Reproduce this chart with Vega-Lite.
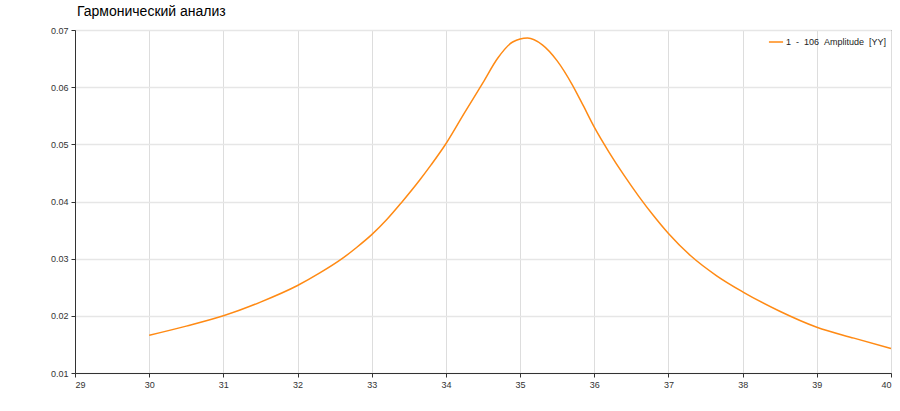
{
  "$schema": "https://vega.github.io/schema/vega-lite/v6.json",
  "autosize": "none",
  "width": 816,
  "height": 343,
  "padding": {"left": 75, "top": 30, "right": 9, "bottom": 38},
  "background": "white",
  "title": {
    "text": "Гармонический анализ",
    "anchor": "start",
    "frame": "group",
    "font": "Liberation Sans",
    "fontSize": 14,
    "fontWeight": "normal",
    "color": "#000000",
    "offset": 7,
    "dx": 2
  },
  "data": {
    "values": [
      {"freq": 30.0, "amp": 0.0166, "series": "1 \u00a0-\u00a0 106 \u00a0Amplitude \u00a0[YY]"},
      {"freq": 30.5, "amp": 0.0182, "series": "1 \u00a0-\u00a0 106 \u00a0Amplitude \u00a0[YY]"},
      {"freq": 31.0, "amp": 0.0200, "series": "1 \u00a0-\u00a0 106 \u00a0Amplitude \u00a0[YY]"},
      {"freq": 31.5, "amp": 0.0224, "series": "1 \u00a0-\u00a0 106 \u00a0Amplitude \u00a0[YY]"},
      {"freq": 32.0, "amp": 0.0253, "series": "1 \u00a0-\u00a0 106 \u00a0Amplitude \u00a0[YY]"},
      {"freq": 32.3, "amp": 0.0275, "series": "1 \u00a0-\u00a0 106 \u00a0Amplitude \u00a0[YY]"},
      {"freq": 32.6, "amp": 0.0300, "series": "1 \u00a0-\u00a0 106 \u00a0Amplitude \u00a0[YY]"},
      {"freq": 32.8, "amp": 0.0320, "series": "1 \u00a0-\u00a0 106 \u00a0Amplitude \u00a0[YY]"},
      {"freq": 33.0, "amp": 0.0342, "series": "1 \u00a0-\u00a0 106 \u00a0Amplitude \u00a0[YY]"},
      {"freq": 33.2, "amp": 0.0368, "series": "1 \u00a0-\u00a0 106 \u00a0Amplitude \u00a0[YY]"},
      {"freq": 33.4, "amp": 0.0398, "series": "1 \u00a0-\u00a0 106 \u00a0Amplitude \u00a0[YY]"},
      {"freq": 33.65, "amp": 0.0438, "series": "1 \u00a0-\u00a0 106 \u00a0Amplitude \u00a0[YY]"},
      {"freq": 33.8, "amp": 0.0464, "series": "1 \u00a0-\u00a0 106 \u00a0Amplitude \u00a0[YY]"},
      {"freq": 34.0, "amp": 0.0501, "series": "1 \u00a0-\u00a0 106 \u00a0Amplitude \u00a0[YY]"},
      {"freq": 34.25, "amp": 0.0555, "series": "1 \u00a0-\u00a0 106 \u00a0Amplitude \u00a0[YY]"},
      {"freq": 34.5, "amp": 0.0608, "series": "1 \u00a0-\u00a0 106 \u00a0Amplitude \u00a0[YY]"},
      {"freq": 34.7, "amp": 0.0651, "series": "1 \u00a0-\u00a0 106 \u00a0Amplitude \u00a0[YY]"},
      {"freq": 34.9, "amp": 0.0679, "series": "1 \u00a0-\u00a0 106 \u00a0Amplitude \u00a0[YY]"},
      {"freq": 35.1, "amp": 0.0686, "series": "1 \u00a0-\u00a0 106 \u00a0Amplitude \u00a0[YY]"},
      {"freq": 35.3, "amp": 0.0674, "series": "1 \u00a0-\u00a0 106 \u00a0Amplitude \u00a0[YY]"},
      {"freq": 35.5, "amp": 0.0646, "series": "1 \u00a0-\u00a0 106 \u00a0Amplitude \u00a0[YY]"},
      {"freq": 35.7, "amp": 0.0605, "series": "1 \u00a0-\u00a0 106 \u00a0Amplitude \u00a0[YY]"},
      {"freq": 35.85, "amp": 0.0568, "series": "1 \u00a0-\u00a0 106 \u00a0Amplitude \u00a0[YY]"},
      {"freq": 36.0, "amp": 0.0530, "series": "1 \u00a0-\u00a0 106 \u00a0Amplitude \u00a0[YY]"},
      {"freq": 36.2, "amp": 0.0486, "series": "1 \u00a0-\u00a0 106 \u00a0Amplitude \u00a0[YY]"},
      {"freq": 36.4, "amp": 0.0446, "series": "1 \u00a0-\u00a0 106 \u00a0Amplitude \u00a0[YY]"},
      {"freq": 36.6, "amp": 0.0409, "series": "1 \u00a0-\u00a0 106 \u00a0Amplitude \u00a0[YY]"},
      {"freq": 36.8, "amp": 0.0375, "series": "1 \u00a0-\u00a0 106 \u00a0Amplitude \u00a0[YY]"},
      {"freq": 37.0, "amp": 0.0344, "series": "1 \u00a0-\u00a0 106 \u00a0Amplitude \u00a0[YY]"},
      {"freq": 37.3, "amp": 0.0305, "series": "1 \u00a0-\u00a0 106 \u00a0Amplitude \u00a0[YY]"},
      {"freq": 37.65, "amp": 0.0270, "series": "1 \u00a0-\u00a0 106 \u00a0Amplitude \u00a0[YY]"},
      {"freq": 38.0, "amp": 0.0242, "series": "1 \u00a0-\u00a0 106 \u00a0Amplitude \u00a0[YY]"},
      {"freq": 38.5, "amp": 0.0208, "series": "1 \u00a0-\u00a0 106 \u00a0Amplitude \u00a0[YY]"},
      {"freq": 39.0, "amp": 0.0180, "series": "1 \u00a0-\u00a0 106 \u00a0Amplitude \u00a0[YY]"},
      {"freq": 39.5, "amp": 0.0161, "series": "1 \u00a0-\u00a0 106 \u00a0Amplitude \u00a0[YY]"},
      {"freq": 40.0, "amp": 0.0143, "series": "1 \u00a0-\u00a0 106 \u00a0Amplitude \u00a0[YY]"}
    ]
  },
  "mark": {"type": "line", "strokeWidth": 1.5, "interpolate": "monotone"},
  "encoding": {
    "x": {
      "field": "freq",
      "type": "quantitative",
      "title": null,
      "scale": {"domain": [29, 40], "nice": false, "zero": false},
      "axis": {"values": [29, 30, 31, 32, 33, 34, 35, 36, 37, 38, 39, 40], "format": "d"}
    },
    "y": {
      "field": "amp",
      "type": "quantitative",
      "title": null,
      "scale": {"domain": [0.01, 0.07], "nice": false, "zero": false},
      "axis": {"values": [0.01, 0.02, 0.03, 0.04, 0.05, 0.06, 0.07], "format": ".2f", "gridWidth": 1.5, "gridColor": "#e6e6e6"}
    },
    "color": {
      "field": "series",
      "type": "nominal",
      "scale": {"range": ["#ff8a14"]},
      "legend": {
        "title": null,
        "orient": "top-right",
        "offset": 4,
        "padding": 0,
        "symbolType": "stroke",
        "symbolSize": 200,
        "symbolStrokeWidth": 1.5,
        "labelFont": "Liberation Sans",
        "labelFontSize": 9,
        "labelColor": "#222222",
        "labelOffset": 2,
        "labelLimit": 300
      }
    }
  },
  "config": {
    "view": {"stroke": "#333333", "strokeWidth": 1},
    "axis": {
      "labelFont": "Liberation Sans",
      "labelFontSize": 9,
      "labelColor": "#333333",
      "domainColor": "#333333",
      "tickColor": "#333333",
      "tickSize": 4,
      "labelPadding": 3,
      "gridColor": "#dddddd",
      "gridWidth": 1
    }
  }
}
